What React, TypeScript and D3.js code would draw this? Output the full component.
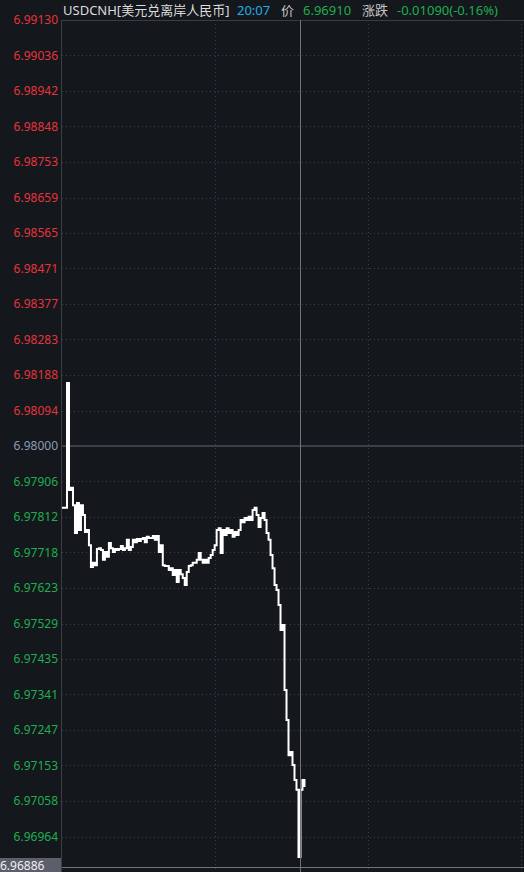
import React from "react";
import * as d3 from "d3";

// ---- data ----
const SYMBOL = "USDCNH[美元兑离岸人民币]";
const TIME_LABEL = "20:07";
const PRICE_LABEL = "价";
const PRICE = "6.96910";
const CHANGE_LABEL = "涨跌";
const CHANGE = "-0.01090(-0.16%)";

const PREV_CLOSE = 6.98;
const Y_MIN = 6.9687;
const Y_MAX = 6.9913;
const CROSS_VALUE = 6.96886;
const CROSS_INDEX = 119;
const TOTAL_STEPS = 230;

const TICK_LABELS = [
  "6.99130", "6.99036", "6.98942", "6.98848", "6.98753", "6.98659",
  "6.98565", "6.98471", "6.98377", "6.98283", "6.98188", "6.98094",
  "6.98000", "6.97906", "6.97812", "6.97718", "6.97623", "6.97529",
  "6.97435", "6.97341", "6.97247", "6.97153", "6.97058", "6.96964",
];

const PRICES = [
  6.97836, 6.97836, 6.97836, 6.98167, 6.97883, 6.97889, 6.97843, 6.97769, 6.97849, 6.97777,
  6.97843, 6.97817, 6.97772, 6.97777, 6.97737, 6.97679, 6.9769, 6.97684, 6.97727, 6.97729,
  6.97724, 6.97698, 6.97719, 6.97706, 6.97743, 6.97729, 6.97719, 6.97727, 6.97724, 6.97727,
  6.97735, 6.97724, 6.97729, 6.97751, 6.97724, 6.97732, 6.97751, 6.97745, 6.97753, 6.97748,
  6.97753, 6.97756, 6.97745, 6.97759, 6.97756, 6.97756, 6.97761, 6.97751, 6.97761, 6.97719,
  6.97737, 6.97684, 6.97682, 6.97682, 6.97671, 6.97676, 6.97658, 6.97671, 6.97639, 6.97671,
  6.9766, 6.9765, 6.97631, 6.97666, 6.97682, 6.97684, 6.9769, 6.9769, 6.97698, 6.97716,
  6.97698, 6.9769, 6.97698, 6.9769, 6.97703, 6.97711, 6.97724, 6.97737, 6.97777, 6.97782,
  6.97716, 6.97777, 6.97764, 6.97782, 6.97769, 6.97777, 6.97759, 6.97772, 6.97764, 6.97777,
  6.97804, 6.97798, 6.97809, 6.97804, 6.97812, 6.97804, 6.9783, 6.97836, 6.97817, 6.97785,
  6.97809, 6.97822, 6.97804, 6.97769, 6.97751, 6.97711, 6.97676, 6.97631, 6.97618, 6.97578,
  6.97512, 6.97525, 6.97353, 6.97273, 6.9718, 6.97188, 6.97154, 6.97114, 6.97088, 6.9691,
  6.97088, 6.97114, 6.97098,
];

// ---- layout / style ----
const W = 524;
const H = 872;
const LEFT = 62;
const RIGHT = 521;
const TOP = 20;
const BG = "#14171c";
const GRID = "#3a3e46";
const RED = "#e5343b";
const GREEN = "#1fae4f";
const FONT = "'Noto Sans', 'Noto Sans CJK SC', sans-serif";

export default function App() {
  const y = d3.scaleLinear().domain([Y_MIN, Y_MAX]).range([H, TOP]);
  const x = d3.scaleLinear().domain([0, TOTAL_STEPS]).range([LEFT, RIGHT]);
  const line = d3
    .line<number>()
    .x((_, i) => x(i))
    .y((d) => y(d))
    .curve(d3.curveStep);

  const vGrid = [TOTAL_STEPS / 3, (2 * TOTAL_STEPS) / 3, TOTAL_STEPS];
  const crossX = Math.round(x(CROSS_INDEX)) + 1.5;
  const crossY = Math.round(y(CROSS_VALUE)) + 1.5;

  return (
    <svg
      width={W}
      height={H}
      style={{ position: "fixed", left: 0, top: 0, display: "block" }}
      fontFamily={FONT}
    >
      <rect x={0} y={0} width={W} height={H} fill={BG} />

      {/* horizontal dotted grid */}
      {TICK_LABELS.map((t) => {
        const v = +t;
        if (Math.abs(v - PREV_CLOSE) < 1e-9) return null;
        const yy = Math.round(y(v)) + 0.5;
        return (
          <line
            key={"h" + t}
            x1={LEFT}
            x2={W}
            y1={yy}
            y2={yy}
            stroke={GRID}
            strokeWidth={1}
            strokeDasharray="1,3"
          />
        );
      })}

      {/* vertical dotted grid */}
      {vGrid.map((g) => {
        const xx = Math.round(x(g)) + 0.5;
        return (
          <line
            key={"v" + g}
            x1={xx}
            x2={xx}
            y1={TOP}
            y2={H}
            stroke={GRID}
            strokeWidth={1}
            strokeDasharray="1,3"
          />
        );
      })}

      {/* prev close line */}
      <line
        x1={LEFT}
        x2={W}
        y1={y(PREV_CLOSE)}
        y2={y(PREV_CLOSE)}
        stroke="#3c3f45"
        strokeWidth={2}
      />

      {/* frame */}
      <line x1={LEFT - 0.5} x2={LEFT - 0.5} y1={TOP} y2={H} stroke="#3a3d43" strokeWidth={1} />
      <line x1={LEFT} x2={W} y1={TOP + 0.5} y2={TOP + 0.5} stroke="#3a3d43" strokeWidth={1} />

      {/* price line */}
      <path
        d={line(PRICES) || ""}
        fill="none"
        stroke="#ffffff"
        strokeWidth={2}
        strokeLinejoin="miter"
      />

      {/* crosshair */}
      <line x1={crossX} x2={crossX} y1={TOP} y2={H} stroke="#707278" strokeWidth={1} />
      <line x1={LEFT} x2={W} y1={crossY} y2={crossY} stroke="#707278" strokeWidth={1} />

      {/* y labels */}
      {TICK_LABELS.map((t) => {
        const v = +t;
        const color =
          Math.abs(v - PREV_CLOSE) < 1e-9 ? "#8b9cb4" : v > PREV_CLOSE ? RED : GREEN;
        return (
          <text
            key={"l" + t}
            x={58}
            y={y(v)}
            dy="0.36em"
            textAnchor="end"
            fontSize={12}
            fill={color}
          >
            {t}
          </text>
        );
      })}

      {/* crosshair value box */}
      <rect x={0} y={y(CROSS_VALUE) - 8} width={LEFT - 1} height={16} fill="#5d5e6c" />
      <text x={0} y={y(CROSS_VALUE)} dy="0.36em" fontSize={12} fill="#f0f0f0">
        {CROSS_VALUE.toFixed(5)}
      </text>

      {/* header */}
      <text x={63} y={15} fontSize={13} fill="#dcdcdc">
        {SYMBOL}
      </text>
      <text x={237} y={15} fontSize={13} fill="#27aee3">
        {TIME_LABEL}
      </text>
      <text x={281} y={15} fontSize={13} fill="#c8c8c8">
        {PRICE_LABEL}
      </text>
      <text x={303} y={15} fontSize={13} fill={GREEN}>
        {PRICE}
      </text>
      <text x={362} y={15} fontSize={13} fill="#c8c8c8">
        {CHANGE_LABEL}
      </text>
      <text x={397} y={15} fontSize={13} fill={GREEN}>
        {CHANGE}
      </text>
    </svg>
  );
}
